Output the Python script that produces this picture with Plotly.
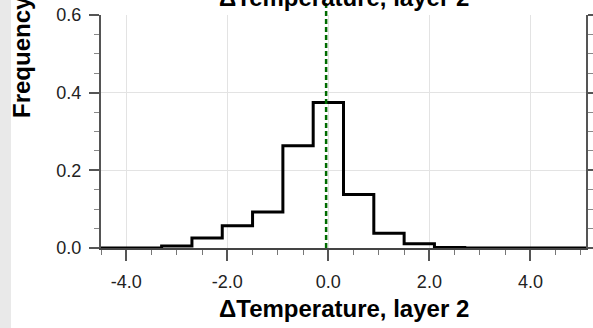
import plotly.graph_objects as go

# Histogram data (bin edges and relative frequency per bin)
bin_edges = [-4.5, -3.9, -3.3, -2.7, -2.1, -1.5, -0.9, -0.3, 0.3, 0.9, 1.5, 2.1, 2.7, 3.3, 3.9, 4.5, 5.1]
frequency = [0.0, 0.0, 0.005, 0.026, 0.057, 0.093, 0.263, 0.375, 0.138, 0.038, 0.011, 0.001, 0.0, 0.0, 0.0, 0.0]
mean_value = -0.044

x_range = [-4.5, 5.1]
y_range = [0.0, 0.6]
x_ticks = [-4.0, -2.0, 0.0, 2.0, 4.0]
x_tick_labels = ["-4.0", "-2.0", "0.0", "2.0", "4.0"]
y_ticks = [0.0, 0.2, 0.4, 0.6]
y_tick_labels = ["0.0", "0.2", "0.4", "0.6"]
title_text = "ΔTemperature, layer 2"
x_title = "ΔTemperature, layer 2"
y_title = "Frequency"

FONT = "Liberation Sans, Arial, Helvetica, sans-serif"

step_y = frequency + [frequency[-1]]

fig = go.Figure()
fig.add_trace(go.Scatter(
    x=bin_edges, y=step_y, mode="lines", line_shape="hv",
    line=dict(color="black", width=3), showlegend=False, hoverinfo="skip",
    cliponaxis=False,
))

W, H = 593, 328
L, R, T, B = 101, 7, 15, 80
pw = W - L - R
ph = H - T - B

def px_to_paper_x(px):
    return (px - L) / pw

def px_to_paper_y(py):
    return (H - B - py) / ph

fig.update_layout(
    width=W, height=H,
    margin=dict(l=L, r=R, t=T, b=B, pad=0, autoexpand=False),
    paper_bgcolor="white", plot_bgcolor="white",
    font=dict(family=FONT, size=18, color="#222"),
    showlegend=False,
    xaxis=dict(
        range=x_range, tickmode="array", tickvals=x_ticks, ticktext=x_tick_labels,
        showgrid=True, gridcolor="#e3e3e3", gridwidth=1, zeroline=False,
        showline=True, linecolor="#444", linewidth=2, mirror=False,
        ticks="outside", ticklen=11, tickwidth=1.5, tickcolor="#555",
        ticklabelstandoff=5, automargin=False,
        minor=dict(dtick=0.5, tick0=0, ticks="outside", ticklen=5, tickwidth=1.2, tickcolor="#777", showgrid=False),
        tickfont=dict(size=18, color="#222", family=FONT),
    ),
    yaxis=dict(
        range=y_range, tickmode="array", tickvals=y_ticks, ticktext=y_tick_labels,
        showgrid=True, gridcolor="#e3e3e3", gridwidth=1, zeroline=False,
        showline=True, linecolor="#555", linewidth=2, mirror="allticks",
        ticks="outside", ticklen=10, tickwidth=1.5, tickcolor="#555",
        ticklabelstandoff=4, automargin=False,
        minor=dict(dtick=0.05, tick0=0, ticks="outside", ticklen=5, tickwidth=1.2, tickcolor="#888", showgrid=False),
        tickfont=dict(size=18, color="#222", family=FONT),
    ),
)

# light gray strip at the left edge
fig.add_shape(type="rect", xref="paper", yref="paper",
              x0=px_to_paper_x(-5), x1=px_to_paper_x(11),
              y0=px_to_paper_y(H + 5), y1=px_to_paper_y(-5),
              fillcolor="#e9e9e9", line=dict(width=0), layer="below")

# dashed mean line
fig.add_shape(type="line", xref="paper", yref="paper",
              x0=(mean_value - x_range[0]) / (x_range[1] - x_range[0]),
              x1=(mean_value - x_range[0]) / (x_range[1] - x_range[0]),
              y0=0, y1=px_to_paper_y(-2),
              line=dict(color="#006b00", width=2.5, dash="5px,3px"))

# top title (partly cut off)
fig.add_annotation(text="<b>" + title_text + "</b>", xref="paper", yref="paper",
                   x=0.5, y=px_to_paper_y(-2.5), xanchor="center", yanchor="middle",
                   showarrow=False, font=dict(size=24, color="black", family=FONT))
# x title
fig.add_annotation(text="<b>" + x_title + "</b>", xref="paper", yref="paper",
                   x=0.5, y=px_to_paper_y(308.5), xanchor="center", yanchor="middle",
                   showarrow=False, font=dict(size=24, color="black", family=FONT))
# y title
fig.add_annotation(text="<b>" + y_title + "</b>", xref="paper", yref="paper",
                   x=px_to_paper_x(22), y=px_to_paper_y(57), xanchor="center", yanchor="middle",
                   textangle=-90, showarrow=False, font=dict(size=24, color="black", family=FONT))

fig.write_html("out.html", post_script="document.body.style.margin='0';",
               config={"displayModeBar": False})
